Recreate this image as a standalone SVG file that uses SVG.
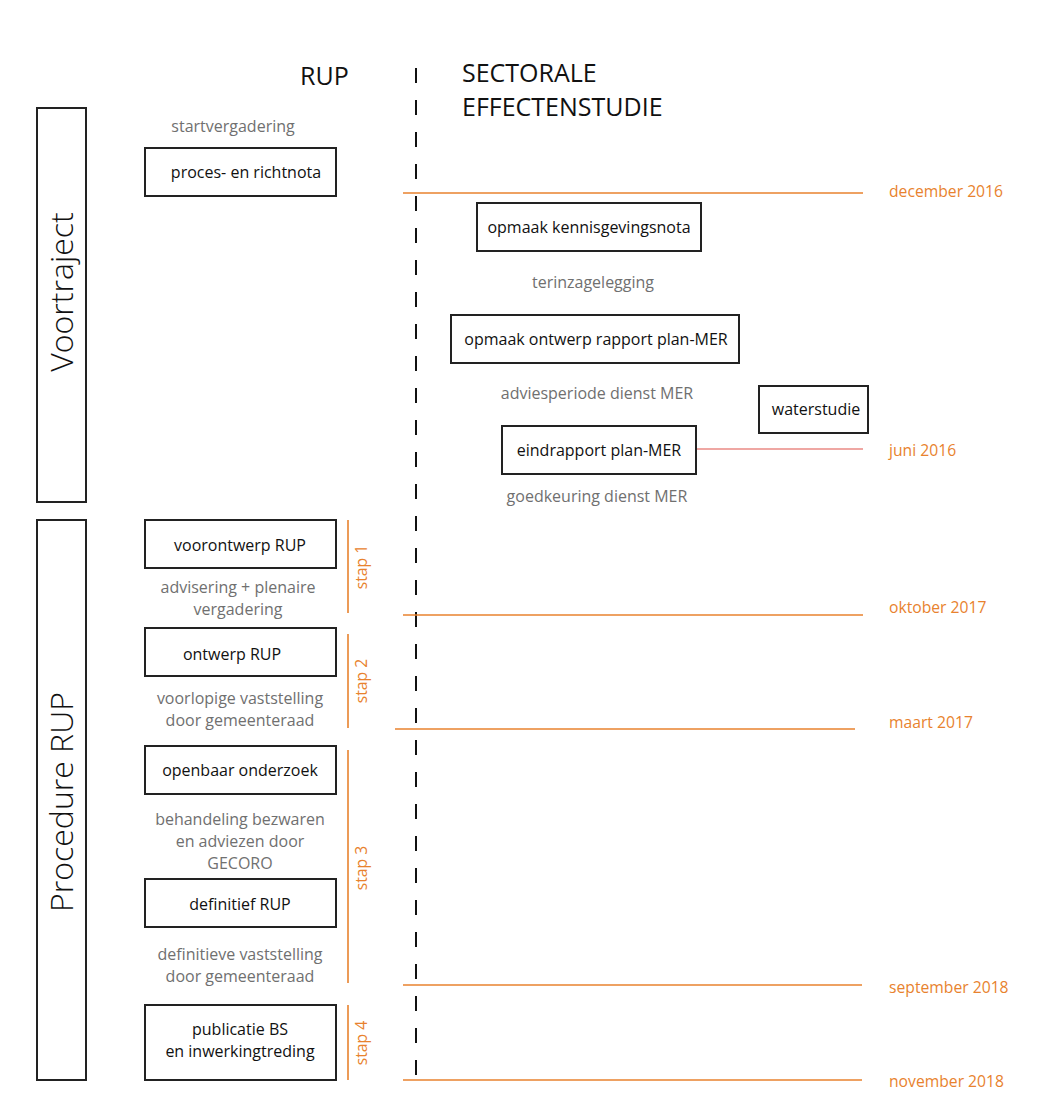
<svg xmlns="http://www.w3.org/2000/svg" width="1041" height="1104" viewBox="0 0 1041 1104">
<style>
.box{fill:#fff;stroke:#222;stroke-width:2}
.t{font-family:"Open Sans","Noto Sans",sans-serif;font-size:16px;fill:#111;text-anchor:middle}
.g{font-family:"Open Sans","Noto Sans",sans-serif;font-size:16px;fill:#707070;text-anchor:middle}
.o{font-family:"Open Sans","Noto Sans",sans-serif;font-size:15.7px;fill:#e8822e}
.os{font-family:"Open Sans","Noto Sans",sans-serif;font-size:15.7px;fill:#e8822e;text-anchor:middle}
.h{font-family:"Open Sans","Noto Sans",sans-serif;font-size:25px;fill:#111}
.big{font-family:"Open Sans","Noto Sans",sans-serif;font-size:32px;fill:#111;text-anchor:middle;font-weight:300}
.ol{stroke:#e8822e;stroke-width:1.6}
</style>
<rect width="1041" height="1104" fill="#fff"/>

<g id="headers">
<text class="h" x="300" y="85">RUP</text>
<text class="h" x="462" y="82">SECTORALE</text>
<text class="h" x="462" y="116">EFFECTENSTUDIE</text>
</g>

<g id="phase-voortraject">
<rect class="box" x="37" y="108" width="49" height="394"/>
<text class="big" transform="translate(73,292) rotate(-90)">Voortraject</text>
</g>
<g id="phase-procedure">
<rect class="box" x="37" y="520" width="49" height="560"/>
<text class="big" transform="translate(73,802) rotate(-90)">Procedure RUP</text>
</g>

<g id="connectors">
<line x1="416" y1="65" x2="416" y2="1082" stroke="#111" stroke-width="2" stroke-dasharray="15 17" stroke-dashoffset="-3"/>
<line class="ol" x1="403" y1="193" x2="863" y2="193"/>
<line class="ol" x1="403" y1="615" x2="863" y2="615"/>
<line class="ol" x1="395" y1="729" x2="855" y2="729"/>
<line class="ol" x1="403" y1="985" x2="862" y2="985"/>
<line class="ol" x1="403" y1="1080" x2="862" y2="1080"/>
<line x1="697" y1="449" x2="863" y2="449" stroke="#ea8a84" stroke-width="1.4"/>
<line class="ol" x1="348" y1="520" x2="348" y2="613"/>
<line class="ol" x1="348" y1="634" x2="348" y2="728"/>
<line class="ol" x1="348" y1="750" x2="348" y2="983"/>
<line class="ol" x1="348" y1="1005" x2="348" y2="1080" stroke-width="1"/>
</g>

<g id="dates">
<text class="o" x="889" y="197">december 2016</text>
<text class="o" x="889" y="456">juni 2016</text>
<text class="o" x="889" y="613">oktober 2017</text>
<text class="o" x="889" y="728">maart 2017</text>
<text class="o" x="889" y="993">september 2018</text>
<text class="o" x="889" y="1087">november 2018</text>
</g>

<g id="steps">
<text class="os" transform="translate(367,567) rotate(-90)">stap 1</text>
<text class="os" transform="translate(367,681) rotate(-90)">stap 2</text>
<text class="os" transform="translate(367,868) rotate(-90)">stap 3</text>
<text class="os" transform="translate(367,1043) rotate(-90)">stap 4</text>
</g>

<g id="startvergadering"><text class="g" x="233" y="132">startvergadering</text></g>
<g id="node-proces"><rect class="box" x="145" y="148" width="191" height="48"/><text class="t" x="246" y="178">proces- en richtnota</text></g>

<g id="node-kennisgeving"><rect class="box" x="477" y="203" width="224" height="48"/><text class="t" x="589" y="233">opmaak kennisgevingsnota</text></g>
<g id="terinzage"><text class="g" x="593" y="288">terinzagelegging</text></g>
<g id="node-ontwerp-mer"><rect class="box" x="451" y="315" width="288" height="48"/><text class="t" x="596" y="345">opmaak ontwerp rapport plan-MER</text></g>
<g id="advies"><text class="g" x="597" y="399">adviesperiode dienst MER</text></g>
<g id="node-waterstudie"><rect class="box" x="759" y="386" width="109" height="47"/><text class="t" x="816" y="415">waterstudie</text></g>
<g id="node-eindrapport"><rect class="box" x="502" y="426" width="194" height="48"/><text class="t" x="599" y="456">eindrapport plan-MER</text></g>
<g id="goedkeuring"><text class="g" x="597" y="502">goedkeuring dienst MER</text></g>

<g id="node-voorontwerp"><rect class="box" x="145" y="520" width="191" height="48"/><text class="t" x="240" y="551">voorontwerp RUP</text></g>
<g id="advisering"><text class="g" x="238" y="593">advisering + plenaire</text><text class="g" x="238" y="615">vergadering</text></g>
<g id="node-ontwerp"><rect class="box" x="145" y="628" width="191" height="48"/><text class="t" x="232" y="660">ontwerp RUP</text></g>
<g id="voorlopige"><text class="g" x="240" y="704">voorlopige vaststelling</text><text class="g" x="240" y="726">door gemeenteraad</text></g>
<g id="node-openbaar"><rect class="box" x="145" y="746" width="191" height="48"/><text class="t" x="240" y="776">openbaar onderzoek</text></g>
<g id="behandeling"><text class="g" x="240" y="825">behandeling bezwaren</text><text class="g" x="240" y="847">en adviezen door</text><text class="g" x="240" y="869">GECORO</text></g>
<g id="node-definitief"><rect class="box" x="145" y="879" width="191" height="48"/><text class="t" x="240" y="910">definitief RUP</text></g>
<g id="definitieve"><text class="g" x="240" y="960">definitieve vaststelling</text><text class="g" x="240" y="982">door gemeenteraad</text></g>
<g id="node-publicatie"><rect class="box" x="145" y="1005" width="191" height="75"/><text class="t" x="240" y="1035">publicatie BS</text><text class="t" x="240" y="1057">en inwerkingtreding</text></g>
</svg>
